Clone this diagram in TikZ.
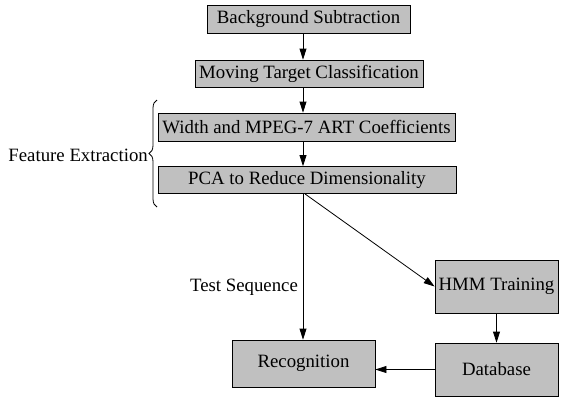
\documentclass[tikz,border=0pt]{standalone}
\usepackage{fontspec}
\setmainfont{Liberation Serif}
\usetikzlibrary{arrows.meta,decorations.pathreplacing}
\begin{document}
\begin{tikzpicture}[x=1pt,y=-1pt,
  box/.style={draw,line width=0.8pt,fill=boxgray,inner sep=0pt,font=\fontsize{18.8}{22}\selectfont},
  arr/.style={line width=0.8pt,-{Triangle[length=11pt,width=7pt]}},
  lbl/.style={font=\fontsize{18.8}{22}\selectfont,inner sep=0pt}]
\definecolor{boxgray}{RGB}{192,192,192}
\useasboundingbox (0,0) rectangle (563,397);
\node[box,minimum width=203pt,minimum height=28pt] (b1) at (308.5,19) {Background Subtraction};
\node[box,minimum width=228pt,minimum height=27pt] (b2) at (309,73.5) {Moving Target Classification};
\node[box,minimum width=297pt,minimum height=28pt] (b3) at (306.5,127) {Width and MPEG-7 ART Coefficients};
\node[box,minimum width=298pt,minimum height=27pt] (b4) at (307,180) {PCA to Reduce Dimensionality};
\node[box,minimum width=123pt,minimum height=53pt] (hmm) at (496.5,286.5) {HMM Training};
\node[box,minimum width=123pt,minimum height=53pt] (db) at (496.5,369.5) {Database};
\node[box,minimum width=143pt,minimum height=47pt] (rec) at (303.5,363.5) {Recognition};
\coordinate (ax) at (303,0);
\coordinate (ax2) at (305,0);
\draw[arr] (b1.south -| ax) -- (b2.north -| ax);
\draw[arr] (b2.south -| ax) -- (b3.north -| ax);
\draw[arr] (b3.south -| ax) -- (b4.north -| ax);
\draw[arr] (b4.south -| ax) -- (rec.north -| ax);
\draw[arr] (b4.south -| ax2) -- (hmm.west);
\draw[arr] (hmm.south) -- (db.north);
\draw[arr] (db.west) -- (db.west -| rec.east);
\node[lbl] (ts) at (244,287) {Test Sequence};
\coordinate (bb) at (157,207);
\coordinate (bt) at (157,100);
\draw[line width=0.8pt,decorate,decoration={brace,amplitude=8pt}] (bb) -- (bt);
\node[lbl,anchor=east] (fe) at (148,155) {Feature Extraction};
\end{tikzpicture}
\end{document}
